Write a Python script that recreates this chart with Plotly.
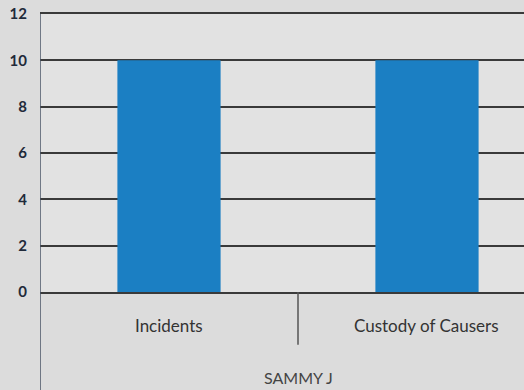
import plotly.graph_objects as go

categories = ["Incidents", "Custody of Causers"]
values = [10, 10]
group_label = "SAMMY J"
y_ticks = [0, 2, 4, 6, 8, 10, 12]

fig = go.Figure()
fig.add_trace(go.Bar(
    x=list(range(len(categories))), y=values,
    width=0.4, marker=dict(color="#1b7fc3", line=dict(width=0)),
    showlegend=False,
))

for i, c in enumerate(categories):
    fig.add_annotation(x=i, y=-0.119, xref="x", yref="paper", text=c, yanchor="middle",
                       showarrow=False, font=dict(size=17, color="#333333", family="Lato"))
fig.add_annotation(x=0.5, y=-0.309, xref="x", yref="paper", text=group_label, yanchor="middle",
                   showarrow=False, font=dict(size=16, color="#444444", family="Lato"))

# category divider and left border of category area
fig.add_shape(type="line", x0=0.5, x1=0.5, xref="x", y0=0, y1=-0.19, yref="paper",
              line=dict(color="#555555", width=1.5))
fig.add_shape(type="line", x0=-0.5, x1=-0.5, xref="x", y0=1, y1=-0.36, yref="paper",
              line=dict(color="#4a5566", width=1.5))

fig.update_layout(
    width=524, height=390,
    margin=dict(l=40, r=0, t=14, b=98),
    paper_bgcolor="#dcdcdc", plot_bgcolor="#e2e2e2",
    font=dict(family="Lato", color="#222222"),
    bargap=0.6,
)
fig.update_xaxes(range=[-0.5, 1.376], showticklabels=False, showgrid=False,
                 zeroline=False, showline=True, mirror=True, linecolor="#3a3a3a", linewidth=1.6)
fig.update_yaxes(range=[0, 12], tickvals=y_ticks, showgrid=True, gridcolor="#3a3a3a",
                 gridwidth=1.6, zeroline=False, showline=False,
                 tickfont=dict(size=15, color="#1f2a3a", family="Lato", weight=700),
                 ticklabelstandoff=12)

fig.write_html("out.html", config={"displayModeBar": False},
               post_script="document.body.style.margin='0';")
